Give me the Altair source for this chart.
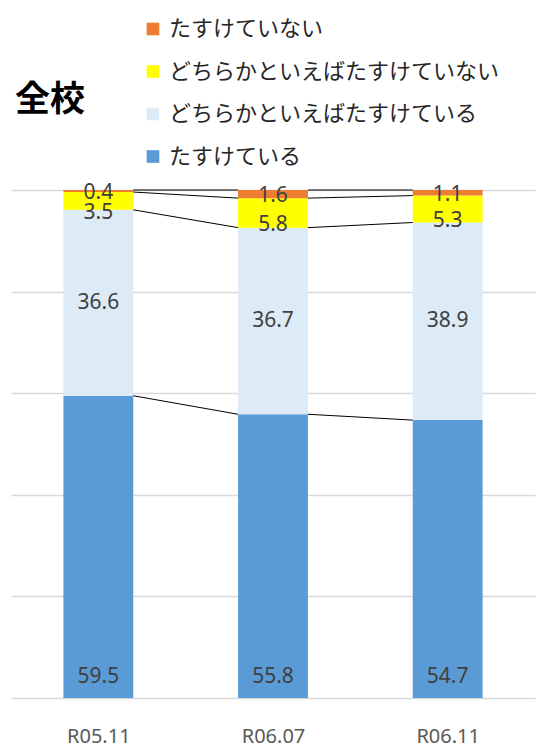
import json
import altair as alt
import pandas as pd

categories = ["R05.11", "R06.07", "R06.11"]
series_names = ["たすけている", "どちらかといえばたすけている", "どちらかといえばたすけていない", "たすけていない"]
helps = [59.5, 55.8, 54.7]
rather_helps = [36.6, 36.7, 38.9]
rather_not = [3.5, 5.8, 5.3]
not_help = [0.4, 1.6, 1.1]
colors = ["#5B9BD5", "#DDEBF7", "#FFFF00", "#ED7D31"]

values = [helps, rather_helps, rather_not, not_help]
half = 0.2

rows = []
lines = []
for i, cat in enumerate(categories):
    total = sum(v[i] for v in values)
    cum = 0.0
    for s, name in enumerate(series_names):
        v = values[s][i]
        y0 = cum / total * 100
        cum += v
        y1 = cum / total * 100
        rows.append(dict(cat=cat, idx=i, series=name, s=s, value=v, label=f"{v:.1f}",
                         x0=i - half, x1=i + half, y0=y0, y1=y1, mid=(y0 + y1) / 2))
df = pd.DataFrame(rows)

for s, name in enumerate(series_names):
    sub = df[df.s == s].sort_values("idx")
    for i in range(len(categories) - 1):
        a = sub.iloc[i]
        b = sub.iloc[i + 1]
        lines.append(dict(series=name, xa=a.x1, xb=b.x0, ya=a.y1, yb=b.y1))
ldf = pd.DataFrame(lines)

legend_order = series_names[::-1]
legend_colors = colors[::-1]

xscale = alt.Scale(domain=[-0.5, len(categories) - 0.5], nice=False, zero=False)
yscale = alt.Scale(domain=[0, 100], nice=False)
label_expr = json.dumps(categories) + "[datum.value]"

base = alt.Chart(df)

bars = base.mark_rect().encode(
    x=alt.X("x0:Q", scale=xscale,
            axis=alt.Axis(values=list(range(len(categories))), labelExpr=label_expr, title=None,
                          grid=False, ticks=False, domain=False, labelFont="Noto Sans",
                          labelFontSize=20, labelColor="#595959", labelPadding=28)),
    x2="x1:Q",
    y=alt.Y("y0:Q", scale=yscale,
            axis=alt.Axis(values=[0, 20, 40, 60, 80, 100], labels=False, ticks=False, domain=False,
                          title=None, grid=True, gridColor="#D9D9D9", gridWidth=1.5)),
    y2="y1:Q",
    color=alt.Color("series:N", scale=alt.Scale(domain=legend_order, range=legend_colors),
                    legend=alt.Legend(title=None, orient="none", legendX=131, legendY=-172,
                                      symbolType="square", symbolSize=160, symbolStrokeWidth=0,
                                      labelFont="Noto Sans CJK JP", labelFontSize=22,
                                      labelColor="#262626", labelLimit=500, rowPadding=20.5,
                                      labelOffset=5)),
)

series_lines = alt.Chart(ldf).mark_rule(color="black", strokeWidth=1).encode(
    x="xa:Q", x2="xb:Q", y="ya:Q", y2="yb:Q"
)

tfont = dict(font="Noto Sans", fontSize=21, color="#404040")

lab_base = base.transform_filter(alt.datum.s == 0).mark_text(dy=-21, **tfont).encode(
    x=alt.X("idx:Q"), y=alt.Y("y0:Q"), text="label:N")
lab_mid = base.transform_filter(alt.datum.s == 1).mark_text(**tfont).encode(
    x=alt.X("idx:Q"), y=alt.Y("mid:Q"), text="label:N")
lab_y = base.transform_filter(alt.datum.s == 2).mark_text(dy=12, **tfont).encode(
    x=alt.X("idx:Q"), y=alt.Y("mid:Q"), text="label:N")
lab_o = base.transform_filter(alt.datum.s == 3).mark_text(dy=2, **tfont).encode(
    x=alt.X("idx:Q"), y=alt.Y("mid:Q"), text="label:N")

chart = alt.layer(bars, series_lines, lab_base, lab_mid, lab_y, lab_o).properties(
    width=524, height=508,
    autosize=alt.AutoSizeParams(type="none"),
    padding={"left": 3, "top": 182, "right": 11, "bottom": 49},
    title=alt.TitleParams("全校", anchor="start", frame="group", font="Noto Sans CJK JP",
                          fontSize=35, fontWeight="bold", color="#000000", dx=4, dy=104),
).configure_view(stroke=None)

chart.save("out.html", embed_options={"renderer": "svg", "actions": False})
